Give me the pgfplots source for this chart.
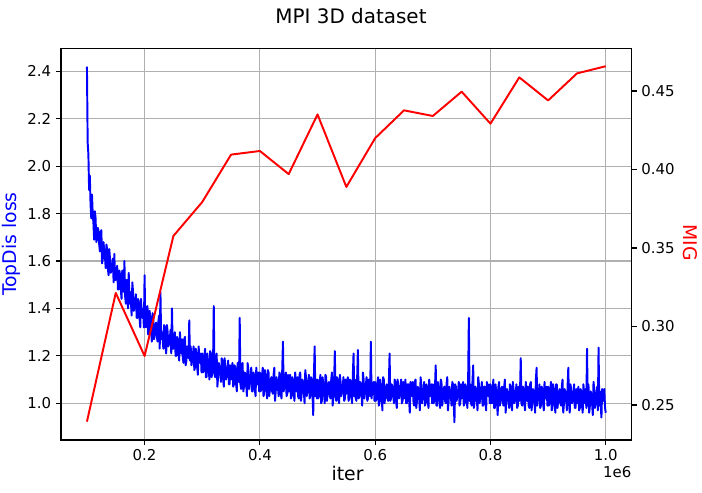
\documentclass[border=0pt]{standalone}
\usepackage{pgfplots}
\pgfplotsset{compat=1.18}
\usepackage{fontspec}
\setmainfont{DejaVu Sans}
\definecolor{gridgray}{HTML}{B0B0B0}
\newcommand{\tickfont}{\fontsize{10.8}{13}\selectfont}
\newcommand{\labfont}{\fontsize{13.6}{16}\selectfont}
\begin{document}
\begin{tikzpicture}
\begin{axis}[
  at={(0,0)}, anchor=south west,
  scale only axis, width=410.9bp, height=282bp,
  xmin=0.055, xmax=1.045, ymin=0.845, ymax=2.497,
  xtick={0.2,0.4,0.6,0.8,1.0}, xticklabels={0.2,0.4,0.6,0.8,1.0},
  ytick={1.0,1.2,1.4,1.6,1.8,2.0,2.2,2.4},
  yticklabels={1.0,1.2,1.4,1.6,1.8,2.0,2.2,2.4},
  grid=major, grid style={gridgray, line width=0.8bp},
  tick align=outside, tick pos=left, major tick length=3.5bp,
  axis line style={line width=0.8bp}, tick style={black, line width=0.8bp},
  ticklabel style={font=\tickfont},
  scaled ticks=false,
]
\addplot[blue, line width=1.4bp, line join=round] coordinates {
(0.1000,2.42) (0.10125,2.10) (0.1025,2.05) (0.10375,1.90) (0.1050,1.96) (0.10625,1.84) (0.1075,1.78) (0.10875,1.88) (0.1100,1.80) (0.11125,1.76)
(0.1125,1.69) (0.11375,1.81) (0.1150,1.78) (0.11625,1.68) (0.1175,1.69) (0.11875,1.74) (0.1200,1.73) (0.12125,1.67) (0.1225,1.64) (0.12375,1.72)
(0.1250,1.73) (0.12625,1.59) (0.1275,1.61) (0.12875,1.68) (0.1300,1.64) (0.13125,1.62) (0.1325,1.57) (0.13375,1.67) (0.1350,1.65) (0.13625,1.57)
(0.1375,1.54) (0.13875,1.65) (0.1400,1.61) (0.14125,1.55) (0.1425,1.56) (0.14375,1.58) (0.1450,1.61) (0.14625,1.51) (0.1475,1.63) (0.14875,1.52)
(0.1500,1.52) (0.15125,1.56) (0.1525,1.58) (0.15375,1.48) (0.1550,1.48) (0.15625,1.56) (0.1575,1.54) (0.15875,1.48) (0.1600,1.44) (0.16125,1.56)
(0.1625,1.51) (0.16375,1.47) (0.1650,1.60) (0.16625,1.45) (0.1675,1.42) (0.16875,1.52) (0.1700,1.52) (0.17125,1.40) (0.1725,1.55) (0.17375,1.42)
(0.1750,1.47) (0.17625,1.43) (0.1775,1.37) (0.17875,1.51) (0.1800,1.47) (0.18125,1.39) (0.1825,1.41) (0.18375,1.43) (0.1850,1.46) (0.18625,1.36)
(0.1875,1.36) (0.18875,1.44) (0.1900,1.42) (0.19125,1.36) (0.1925,1.32) (0.19375,1.44) (0.1950,1.38) (0.19625,1.36) (0.1975,1.40) (0.19875,1.32)
(0.2000,1.54) (0.20125,1.33) (0.2025,1.32) (0.20375,1.38) (0.2050,1.41) (0.20625,1.29) (0.2075,1.29) (0.20875,1.39) (0.2100,1.35) (0.21125,1.31)
(0.2125,1.26) (0.21375,1.38) (0.2150,1.37) (0.21625,1.27) (0.2175,1.29) (0.21875,1.33) (0.2200,1.34) (0.22125,1.28) (0.2225,1.26) (0.22375,1.34)
(0.2250,1.37) (0.22625,1.23) (0.2275,1.47) (0.22875,1.27) (0.2300,1.30) (0.23125,1.28) (0.2325,1.23) (0.23375,1.33) (0.2350,1.32) (0.23625,1.24)
(0.2375,1.21) (0.23875,1.33) (0.2400,1.30) (0.24125,1.24) (0.2425,1.25) (0.24375,1.27) (0.2450,1.31) (0.24625,1.21) (0.2475,1.40) (0.24875,1.23)
(0.2500,1.23) (0.25125,1.27) (0.2525,1.30) (0.25375,1.20) (0.2550,1.20) (0.25625,1.28) (0.2575,1.27) (0.25875,1.21) (0.2600,1.18) (0.26125,1.30)
(0.2625,1.25) (0.26375,1.21) (0.2650,1.27) (0.26625,1.19) (0.2675,1.17) (0.26875,1.27) (0.2700,1.28) (0.27125,1.16) (0.2725,1.18) (0.27375,1.24)
(0.2750,1.23) (0.27625,1.19) (0.2775,1.35) (0.27875,1.18) (0.2800,1.24) (0.28125,1.16) (0.2825,1.18) (0.28375,1.20) (0.2850,1.24) (0.28625,1.14)
(0.2875,1.15) (0.28875,1.23) (0.2900,1.21) (0.29125,1.15) (0.2925,1.12) (0.29375,1.24) (0.2950,1.19) (0.29625,1.17) (0.2975,1.21) (0.29875,1.13)
(0.3000,1.21) (0.30125,1.13) (0.3025,1.14) (0.30375,1.20) (0.3050,1.23) (0.30625,1.11) (0.3075,1.11) (0.30875,1.21) (0.3100,1.18) (0.31125,1.14)
(0.3125,1.10) (0.31375,1.22) (0.3150,1.21) (0.31625,1.11) (0.3175,1.13) (0.31875,1.17) (0.3200,1.41) (0.32125,1.12) (0.3225,1.11) (0.32375,1.19)
(0.3250,1.21) (0.32625,1.07) (0.3275,1.11) (0.32875,1.17) (0.3300,1.15) (0.33125,1.13) (0.3325,1.09) (0.33375,1.19) (0.3350,1.18) (0.33625,1.10)
(0.3375,1.07) (0.33875,1.19) (0.3400,1.16) (0.34125,1.10) (0.3425,1.12) (0.34375,1.14) (0.3450,1.18) (0.34625,1.08) (0.3475,1.08) (0.34875,1.16)
(0.3500,1.10) (0.35125,1.14) (0.3525,1.17) (0.35375,1.07) (0.3550,1.08) (0.35625,1.16) (0.3575,1.14) (0.35875,1.08) (0.3600,1.05) (0.36125,1.17)
(0.3625,1.13) (0.36375,1.09) (0.3650,1.36) (0.36625,1.08) (0.3675,1.06) (0.36875,1.16) (0.3700,1.17) (0.37125,1.05) (0.3725,1.07) (0.37375,1.13)
(0.3750,1.12) (0.37625,1.08) (0.3775,1.03) (0.37875,1.17) (0.3800,1.14) (0.38125,1.06) (0.3825,1.09) (0.38375,1.11) (0.3850,1.15) (0.38625,1.05)
(0.3875,1.05) (0.38875,1.13) (0.3900,1.12) (0.39125,1.06) (0.3925,1.03) (0.39375,1.15) (0.3950,1.10) (0.39625,1.08) (0.3975,1.13) (0.39875,1.05)
(0.4000,1.13) (0.40125,1.05) (0.4025,1.06) (0.40375,1.12) (0.4050,1.15) (0.40625,1.03) (0.4075,1.04) (0.40875,1.14) (0.4100,1.11) (0.41125,1.07)
(0.4125,1.02) (0.41375,1.14) (0.4150,1.13) (0.41625,1.03) (0.4175,1.06) (0.41875,1.10) (0.4200,1.11) (0.42125,1.05) (0.4225,1.04) (0.42375,1.12)
(0.4250,1.15) (0.42625,1.01) (0.4275,1.05) (0.42875,1.11) (0.4300,1.09) (0.43125,1.07) (0.4325,1.03) (0.43375,1.13) (0.4350,1.12) (0.43625,1.04)
(0.4375,1.02) (0.43875,1.14) (0.4400,1.26) (0.44125,1.05) (0.4425,1.07) (0.44375,1.09) (0.4450,1.13) (0.44625,1.03) (0.4475,1.04) (0.44875,1.12)
(0.4500,1.05) (0.45125,1.09) (0.4525,1.12) (0.45375,1.02) (0.4550,1.03) (0.45625,1.11) (0.4575,1.10) (0.45875,1.04) (0.4600,1.01) (0.46125,1.13)
(0.4625,1.09) (0.46375,1.05) (0.4650,1.11) (0.46625,1.03) (0.4675,1.02) (0.46875,1.12) (0.4700,1.13) (0.47125,1.01) (0.4725,1.04) (0.47375,1.10)
(0.4750,1.09) (0.47625,1.05) (0.4775,1.00) (0.47875,1.14) (0.4800,1.11) (0.48125,1.03) (0.4825,1.06) (0.48375,1.08) (0.4850,1.12) (0.48625,1.02)
(0.4875,1.03) (0.48875,1.11) (0.4900,1.10) (0.49125,1.04) (0.4925,0.95) (0.49375,1.12) (0.4950,1.24) (0.49625,1.03) (0.4975,1.10) (0.49875,1.02)
(0.5000,1.10) (0.50125,1.02) (0.5025,1.03) (0.50375,1.09) (0.5050,1.12) (0.50625,1.00) (0.5075,1.01) (0.50875,1.11) (0.5100,1.08) (0.51125,1.04)
(0.5125,1.00) (0.51375,1.12) (0.5150,1.11) (0.51625,1.01) (0.5175,1.04) (0.51875,1.08) (0.5200,1.09) (0.52125,1.03) (0.5225,1.02) (0.52375,1.10)
(0.5250,1.13) (0.52625,0.99) (0.5275,1.03) (0.52875,1.09) (0.5300,1.22) (0.53125,1.03) (0.5325,1.01) (0.53375,1.11) (0.5350,1.10) (0.53625,1.02)
(0.5375,1.00) (0.53875,1.12) (0.5400,1.09) (0.54125,1.03) (0.5425,1.05) (0.54375,1.07) (0.5450,1.11) (0.54625,1.01) (0.5475,1.02) (0.54875,1.10)
(0.5500,1.04) (0.55125,1.08) (0.5525,1.11) (0.55375,1.01) (0.5550,1.02) (0.55625,1.10) (0.5575,1.09) (0.55875,1.03) (0.5600,1.00) (0.56125,1.12)
(0.5625,1.21) (0.56375,1.03) (0.5650,1.10) (0.56625,1.02) (0.5675,1.01) (0.56875,1.11) (0.5700,1.225) (0.57125,1.02) (0.5725,1.03) (0.57375,1.09)
(0.5750,1.08) (0.57625,1.04) (0.5775,0.99) (0.57875,1.13) (0.5800,1.10) (0.58125,1.02) (0.5825,1.05) (0.58375,1.07) (0.5850,1.11) (0.58625,1.01)
(0.5875,1.02) (0.58875,1.10) (0.5900,1.09) (0.59125,1.03) (0.5925,1.26) (0.59375,1.02) (0.5950,1.06) (0.59625,1.04) (0.5975,1.09) (0.59875,1.01)
(0.6000,1.09) (0.60125,1.01) (0.6025,1.02) (0.60375,1.08) (0.6050,1.11) (0.60625,0.99) (0.6075,1.00) (0.60875,1.10) (0.6100,1.07) (0.61125,1.03)
(0.6125,0.97) (0.61375,1.11) (0.6150,1.10) (0.61625,1.00) (0.6175,1.03) (0.61875,1.07) (0.6200,1.08) (0.62125,1.02) (0.6225,1.01) (0.62375,1.09)
(0.6250,1.21) (0.62625,1.01) (0.6275,1.02) (0.62875,1.08) (0.6300,1.06) (0.63125,1.04) (0.6325,1.00) (0.63375,1.10) (0.6350,1.09) (0.63625,1.01)
(0.6375,0.98) (0.63875,1.10) (0.6400,1.08) (0.64125,1.02) (0.6425,1.04) (0.64375,1.06) (0.6450,1.10) (0.64625,1.00) (0.6475,1.01) (0.64875,1.09)
(0.6500,1.02) (0.65125,1.06) (0.6525,1.10) (0.65375,1.00) (0.6550,1.00) (0.65625,1.08) (0.6575,1.08) (0.65875,1.02) (0.6600,0.96) (0.66125,1.09)
(0.6625,1.07) (0.66375,1.03) (0.6650,1.09) (0.66625,1.01) (0.6675,0.99) (0.66875,1.09) (0.6700,1.10) (0.67125,0.98) (0.6725,1.01) (0.67375,1.07)
(0.6750,1.06) (0.67625,1.02) (0.6775,0.97) (0.67875,1.11) (0.6800,1.08) (0.68125,1.00) (0.6825,1.03) (0.68375,1.05) (0.6850,1.09) (0.68625,0.99)
(0.6875,1.00) (0.68875,1.08) (0.6900,1.07) (0.69125,1.01) (0.6925,0.98) (0.69375,1.10) (0.6950,1.05) (0.69625,1.03) (0.6975,1.08) (0.69875,1.00)
(0.7000,1.08) (0.70125,1.00) (0.7025,1.01) (0.70375,1.07) (0.7050,1.16) (0.70625,0.99) (0.7075,0.99) (0.70875,1.09) (0.7100,1.06) (0.71125,1.02)
(0.7125,0.98) (0.71375,1.10) (0.7150,1.09) (0.71625,0.99) (0.7175,1.02) (0.71875,1.06) (0.7200,1.07) (0.72125,1.01) (0.7225,1.00) (0.72375,1.08)
(0.7250,1.11) (0.72625,0.97) (0.7275,1.01) (0.72875,1.07) (0.7300,1.05) (0.73125,1.03) (0.7325,0.99) (0.73375,1.09) (0.7350,1.08) (0.73625,1.00)
(0.7375,0.92) (0.73875,1.08) (0.7400,1.07) (0.74125,1.01) (0.7425,1.03) (0.74375,1.05) (0.7450,1.09) (0.74625,0.99) (0.7475,1.00) (0.74875,1.08)
(0.7500,1.02) (0.75125,1.06) (0.7525,1.09) (0.75375,0.99) (0.7550,1.00) (0.75625,1.08) (0.7575,1.07) (0.75875,1.01) (0.7600,0.98) (0.76125,1.10)
(0.7625,1.36) (0.76375,1.01) (0.7650,1.08) (0.76625,1.00) (0.7675,0.99) (0.76875,1.09) (0.7700,1.16) (0.77125,0.98) (0.7725,1.01) (0.77375,1.07)
(0.7750,1.06) (0.77625,1.02) (0.7775,0.97) (0.77875,1.11) (0.7800,1.08) (0.78125,1.00) (0.7825,1.03) (0.78375,1.05) (0.7850,1.09) (0.78625,0.99)
(0.7875,0.99) (0.78875,1.07) (0.7900,1.07) (0.79125,1.01) (0.7925,0.97) (0.79375,1.09) (0.7950,1.05) (0.79625,1.03) (0.7975,1.08) (0.79875,1.00)
(0.8000,1.08) (0.80125,1.00) (0.8025,1.00) (0.80375,1.06) (0.8050,1.10) (0.80625,0.98) (0.8075,0.98) (0.80875,1.08) (0.8100,1.05) (0.81125,1.01)
(0.8125,0.95) (0.81375,1.07) (0.8150,1.09) (0.81625,0.99) (0.8175,1.01) (0.81875,1.05) (0.8200,1.07) (0.82125,1.01) (0.8225,0.99) (0.82375,1.07)
(0.8250,1.10) (0.82625,0.96) (0.8275,1.00) (0.82875,1.06) (0.8300,1.04) (0.83125,1.02) (0.8325,0.98) (0.83375,1.08) (0.8350,1.07) (0.83625,0.99)
(0.8375,0.97) (0.83875,1.09) (0.8400,1.06) (0.84125,1.00) (0.8425,1.02) (0.84375,1.04) (0.8450,1.08) (0.84625,0.98) (0.8475,0.99) (0.84875,1.07)
(0.8500,1.01) (0.85125,1.05) (0.8525,1.19) (0.85375,1.00) (0.8550,0.99) (0.85625,1.07) (0.8575,1.06) (0.85875,1.00) (0.8600,0.97) (0.86125,1.09)
(0.8625,1.05) (0.86375,1.01) (0.8650,1.07) (0.86625,0.99) (0.8675,0.98) (0.86875,1.08) (0.8700,1.09) (0.87125,0.97) (0.8725,1.00) (0.87375,1.06)
(0.8750,1.05) (0.87625,1.01) (0.8775,0.96) (0.87875,1.10) (0.8800,1.15) (0.88125,0.99) (0.8825,1.02) (0.88375,1.04) (0.8850,1.08) (0.88625,0.98)
(0.8875,0.99) (0.88875,1.07) (0.8900,1.06) (0.89125,1.00) (0.8925,0.97) (0.89375,1.09) (0.8950,1.04) (0.89625,1.02) (0.8975,1.07) (0.89875,0.99)
(0.9000,1.07) (0.90125,0.99) (0.9025,1.00) (0.90375,1.06) (0.9050,1.09) (0.90625,0.97) (0.9075,0.98) (0.90875,1.08) (0.9100,1.05) (0.91125,1.01)
(0.9125,0.96) (0.91375,1.08) (0.9150,1.08) (0.91625,0.98) (0.9175,1.01) (0.91875,1.05) (0.9200,1.06) (0.92125,1.00) (0.9225,0.99) (0.92375,1.07)
(0.9250,1.10) (0.92625,0.96) (0.9275,1.00) (0.92875,1.06) (0.9300,1.04) (0.93125,1.02) (0.9325,0.97) (0.93375,1.07) (0.9350,1.15) (0.93625,1.00)
(0.9375,0.96) (0.93875,1.08) (0.9400,1.06) (0.94125,1.00) (0.9425,1.01) (0.94375,1.03) (0.9450,1.08) (0.94625,0.98) (0.9475,0.98) (0.94875,1.06)
(0.9500,1.00) (0.95125,1.04) (0.9525,1.07) (0.95375,0.97) (0.9550,0.98) (0.95625,1.06) (0.9575,1.05) (0.95875,0.99) (0.9600,0.96) (0.96125,1.08)
(0.9625,1.04) (0.96375,1.00) (0.9650,1.06) (0.96625,0.98) (0.9675,1.23) (0.96875,0.99) (0.9700,1.08) (0.97125,0.96) (0.9725,0.99) (0.97375,1.05)
(0.9750,1.04) (0.97625,1.00) (0.9775,0.95) (0.97875,1.09) (0.9800,1.06) (0.98125,0.98) (0.9825,1.01) (0.98375,1.03) (0.9850,1.07) (0.98625,0.97)
(0.9875,1.235) (0.98875,0.99) (0.9900,1.05) (0.99125,0.99) (0.9925,0.94) (0.99375,1.06) (0.9950,1.03) (0.99625,1.01) (0.9975,1.06) (0.99875,0.98)
(1.0000,0.96)
};
\end{axis}
\begin{axis}[
  at={(0,0)}, anchor=south west,
  scale only axis, width=410.9bp, height=282bp,
  xmin=0.055, xmax=1.045, ymin=0.2277, ymax=0.4772,
  axis x line=none, axis y line*=right,
  ytick={0.25,0.30,0.35,0.40,0.45},
  yticklabels={0.25,0.30,0.35,0.40,0.45},
  tick align=outside, major tick length=3.5bp,
  axis line style={line width=0.8bp, -}, tick style={black, line width=0.8bp},
  ticklabel style={font=\tickfont},
  scaled ticks=false,
]
\addplot[red, line width=1.4bp, line join=round] coordinates {
(0.10,0.2394) (0.15,0.3214) (0.20,0.2812) (0.25,0.3577) (0.30,0.3793)
(0.35,0.4095) (0.40,0.4118) (0.45,0.3971) (0.50,0.4351) (0.55,0.3889)
(0.60,0.4200) (0.65,0.4377) (0.70,0.4341) (0.75,0.4496) (0.80,0.4292)
(0.85,0.4587) (0.90,0.4440) (0.95,0.4612) (1.00,0.4658)
};
\end{axis}
\node[anchor=base, font=\fontsize{14.4}{17}\selectfont] at (208.8bp,300bp) {MPI 3D dataset};
\node[anchor=base, rotate=90, blue, font=\labfont] at (-31.9bp,141bp) {TopDis loss};
\node[anchor=base, rotate=-90, red, font=\labfont] at (448.1bp,142bp) {MIG};
\node[anchor=base, font=\labfont] at (206.3bp,-28.8bp) {iter};
\node[anchor=base east, font=\tickfont, inner sep=0pt] at (410.9bp,-26.9bp) {1e6};
\pgfresetboundingbox
\path (-43.92bp,-37.44bp) rectangle (461.5bp,316.8bp);
\end{tikzpicture}
\end{document}
